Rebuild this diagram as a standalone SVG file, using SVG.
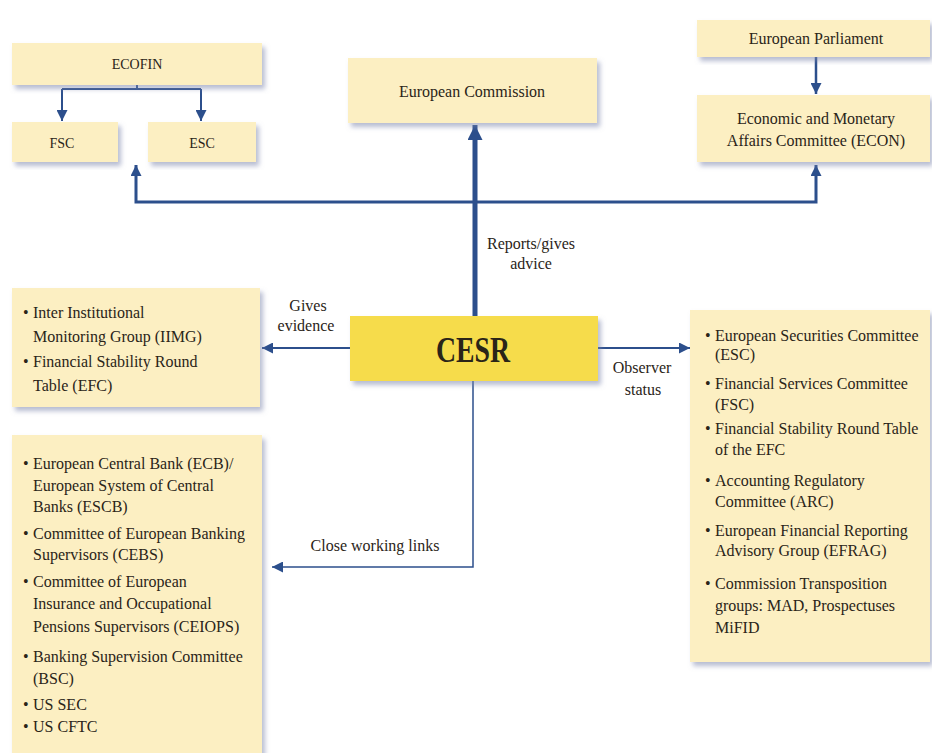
<svg xmlns="http://www.w3.org/2000/svg" width="932" height="753" viewBox="0 0 932 753">
<style>
.box{fill:#fcefc2;filter:url(#sh)}
.cesr{fill:#f6dc4c;filter:url(#sh)}
text{font-family:"Liberation Serif",serif;fill:#2a2418;font-size:16px}
.c{text-anchor:middle}
.sm{font-size:14px}
.big{font-size:35px;font-weight:bold}
.ln{stroke:#2c4f8c;fill:none;stroke-linejoin:miter}
</style>
<defs>
<filter id="sh" x="-10%" y="-10%" width="125%" height="130%">
<feDropShadow dx="3" dy="4" stdDeviation="2.5" flood-color="#7c86ac" flood-opacity="0.55"/>
</filter>
<marker id="a" viewBox="0 0 10 10" refX="10" refY="5" markerWidth="11" markerHeight="11" markerUnits="userSpaceOnUse" orient="auto">
<path d="M0,0 L10,5 L0,10 z" fill="#2c4f8c"/>
</marker>
<marker id="ab" viewBox="0 0 10 10" refX="10" refY="5" markerWidth="15" markerHeight="15" markerUnits="userSpaceOnUse" orient="auto">
<path d="M0,0 L10,5 L0,10 z" fill="#2c4f8c"/>
</marker>
</defs>
<rect width="932" height="753" fill="#ffffff"/>

<g id="connectors">
<path class="ln" stroke-width="2" d="M137,85 V89 M62,89 H201"/>
<path class="ln" stroke-width="2" d="M62,89 V121" marker-end="url(#a)"/>
<path class="ln" stroke-width="2" d="M201,89 V121" marker-end="url(#a)"/>
<path class="ln" stroke-width="2.5" d="M816,57 V94" marker-end="url(#a)"/>
<path class="ln" stroke-width="3" d="M475,202 H136 V165" marker-end="url(#a)"/>
<path class="ln" stroke-width="3" d="M475,202 H816 V165" marker-end="url(#a)"/>
<path class="ln" stroke-width="5" d="M475,316 V125" marker-end="url(#ab)"/>
<path class="ln" stroke-width="2" d="M350,348 H262" marker-end="url(#a)"/>
<path class="ln" stroke-width="2" d="M598,348 H690" marker-end="url(#a)"/>
<path class="ln" stroke-width="1.5" d="M473,381 V567 H272" marker-end="url(#a)"/>
<text class="c" x="531" y="249">Reports/gives</text>
<text class="c" x="531" y="269">advice</text>
<text class="c" x="308" y="311">Gives</text>
<text class="c" x="306" y="331">evidence</text>
<text class="c" x="642" y="373">Observer</text>
<text class="c" x="643" y="395">status</text>
<text class="c" x="375" y="551">Close working links</text>
</g>

<g id="ecofin"><rect class="box" x="12" y="43" width="250" height="42"/><text class="c sm" x="137" y="69">ECOFIN</text></g>
<g id="fsc"><rect class="box" x="12" y="122" width="106" height="40"/><text class="c sm" x="62" y="148">FSC</text></g>
<g id="esc"><rect class="box" x="148" y="122" width="108" height="40"/><text class="c sm" x="202" y="148">ESC</text></g>
<g id="ec"><rect class="box" x="348" y="58" width="249" height="65"/><text class="c" x="472" y="97">European Commission</text></g>
<g id="ep"><rect class="box" x="697" y="20" width="233" height="37"/><text class="c" x="816" y="44">European Parliament</text></g>
<g id="econ"><rect class="box" x="697" y="95" width="233" height="67"/>
<text class="c" x="816" y="124">Economic and Monetary</text>
<text class="c" x="816" y="146">Affairs Committee (ECON)</text></g>

<g id="cesr"><rect class="cesr" x="350" y="316" width="248" height="65"/><text class="c big" x="473" y="362" textLength="74" lengthAdjust="spacingAndGlyphs">CESR</text></g>

<g id="evidence-box"><rect class="box" x="12" y="288" width="248" height="119"/>
<text x="23" y="318">•</text><text x="33" y="318">Inter Institutional</text>
<text x="33" y="342">Monitoring Group (IIMG)</text>
<text x="23" y="367">•</text><text x="33" y="367">Financial Stability Round</text>
<text x="33" y="391">Table (EFC)</text></g>

<g id="working-box"><rect class="box" x="12" y="435" width="250" height="330"/>
<text x="23" y="469">•</text><text x="33" y="469">European Central Bank (ECB)/</text>
<text x="33" y="491">European System of Central</text>
<text x="33" y="512">Banks (ESCB)</text>
<text x="23" y="539">•</text><text x="33" y="539">Committee of European Banking</text>
<text x="33" y="560">Supervisors (CEBS)</text>
<text x="23" y="587">•</text><text x="33" y="587">Committee of European</text>
<text x="33" y="609">Insurance and Occupational</text>
<text x="33" y="632">Pensions Supervisors (CEIOPS)</text>
<text x="23" y="662">•</text><text x="33" y="662">Banking Supervision Committee</text>
<text x="33" y="684">(BSC)</text>
<text x="23" y="710">•</text><text x="33" y="710">US SEC</text>
<text x="23" y="732">•</text><text x="33" y="732">US CFTC</text></g>

<g id="observer-box"><rect class="box" x="690" y="310" width="240" height="352"/>
<text x="705" y="341">•</text><text x="715" y="341">European Securities Committee</text>
<text x="715" y="360">(ESC)</text>
<text x="705" y="389">•</text><text x="715" y="389">Financial Services Committee</text>
<text x="715" y="410">(FSC)</text>
<text x="705" y="434">•</text><text x="715" y="434">Financial Stability Round Table</text>
<text x="715" y="455">of the EFC</text>
<text x="705" y="486">•</text><text x="715" y="486">Accounting Regulatory</text>
<text x="715" y="507">Committee (ARC)</text>
<text x="705" y="536">•</text><text x="715" y="536">European Financial Reporting</text>
<text x="715" y="556">Advisory Group (EFRAG)</text>
<text x="705" y="589">•</text><text x="715" y="589">Commission Transposition</text>
<text x="715" y="611">groups: MAD, Prospectuses</text>
<text x="715" y="633">MiFID</text></g>
</svg>
